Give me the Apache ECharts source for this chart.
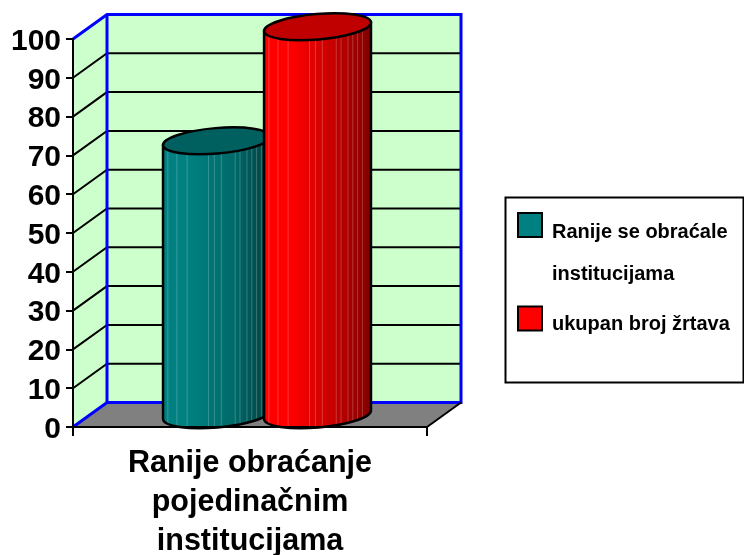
<!DOCTYPE html>
<html>
<head>
<meta charset="utf-8">
<style>html,body{margin:0;padding:0;background:#fff}#chart{width:744px;height:555px}</style>
<script src="https://cdn.jsdelivr.net/npm/echarts@6/dist/echarts.min.js"></script>
</head>
<body>
<div id="chart"></div>
<script>
const categories = ["Ranije obraćanje\npojedinačnim\ninstitucijama"];
const earlierValues = [70.6];
const totalValues = [100];
const yTicks = [0, 10, 20, 30, 40, 50, 60, 70, 80, 90, 100];
const earlierName = "Ranije se obraćale\ninstitucijama";
const totalName = "ukupan broj žrtava";

const font = "Liberation Sans";
const depthX = 34;
const depthY = -24.5;
const wallBlue = "#0000ff";

// fake 3d box: side wall, back wall, floor and the gridlines running round them
function renderBox(params, api) {
  const cs = params.coordSys;
  const x0 = cs.x, x1 = cs.x + cs.width, yBase = cs.y + cs.height, yTop = cs.y;
  const children = [
    { type: "polygon", shape: { points: [[x0, yBase], [x0 + depthX, yBase + depthY], [x0 + depthX, yTop + depthY], [x0, yTop]] }, style: { fill: "#ccffcc" } },
    { type: "rect", shape: { x: x0 + depthX, y: yTop + depthY, width: cs.width, height: cs.height }, style: { fill: "#ccffcc" } },
    { type: "polygon", shape: { points: [[x0, yBase], [x0 + depthX, yBase + depthY], [x1 + depthX, yBase + depthY], [x1, yBase]] }, style: { fill: "#808080" } },
  ];
  yTicks.slice(1, -1).forEach((v) => {
    const y = api.coord([0, v])[1];
    children.push({
      type: "polyline",
      shape: { points: [[x0, y], [x0 + depthX, y + depthY], [x1 + depthX, y + depthY]] },
      style: { fill: "none", stroke: "#000", lineWidth: 2 },
    });
  });
  children.push({
    type: "polyline",
    shape: { points: [[x0, yTop], [x0 + depthX, yTop + depthY], [x1 + depthX, yTop + depthY], [x1 + depthX, yBase + depthY], [x0 + depthX, yBase + depthY], [x0, yBase]] },
    style: { fill: "none", stroke: wallBlue, lineWidth: 3 },
  });
  children.push({
    type: "line",
    shape: { x1: x0 + depthX, y1: yTop + depthY, x2: x0 + depthX, y2: yBase + depthY },
    style: { stroke: wallBlue, lineWidth: 3 },
  });
  children.push({
    type: "line",
    shape: { x1: x1, y1: yBase, x2: x1 + depthX, y2: yBase + depthY },
    style: { stroke: "#000", lineWidth: 2 },
  });
  return { type: "group", children };
}

const stripes = [0.045, 0.13, 0.225, 0.425, 0.48, 0.545, 0.675, 0.72, 0.785, 0.83, 0.875, 0.92];

function cylinderRenderer(offset, colors) {
  return function (params, api) {
    const band = api.size([1, 0])[0];
    const rx = band * 0.151;
    const ry = 12.7;
    const tilt = 4.5;
    const cx = api.coord([0, 0])[0] + depthX / 2 + band * offset;
    const yTopC = api.coord([0, api.value(1)])[1] + depthY / 2;
    const yBotC = api.coord([0, 0])[1] + depthY / 2;
    const lx = cx - rx, rxx = cx + rx;
    const body = `M${lx} ${yTopC + tilt}L${lx} ${yBotC + tilt}A${rx} ${ry} -4.8 0 0 ${rxx} ${yBotC - tilt}L${rxx} ${yTopC - tilt}Z`;
    const cap = `M${lx} ${yTopC + tilt}A${rx} ${ry} -4.8 0 0 ${rxx} ${yTopC - tilt}A${rx} ${ry} -4.8 0 0 ${lx} ${yTopC + tilt}Z`;
    const children = [{
      type: "path",
      shape: { pathData: body },
      style: {
        fill: new echarts.graphic.LinearGradient(0, 0, 1, 0, [
          { offset: 0, color: colors.left },
          { offset: 0.25, color: colors.left },
          { offset: 0.65, color: colors.mid },
          { offset: 1, color: colors.right },
        ]),
        stroke: "none",
      },
    }];
    stripes.forEach((s) => {
      const x = lx + s * rx * 2;
      const t = (x - cx) / rx;
      const yShift = -t * tilt;
      children.push({
        type: "line",
        shape: { x1: x, y1: yTopC + yShift + ry * Math.sqrt(1 - t * t), x2: x, y2: yBotC + yShift + ry * Math.sqrt(1 - t * t) },
        style: { stroke: "rgba(255,255,255,0.22)", lineWidth: 1 },
      });
    });
    children.push({ type: "path", shape: { pathData: body }, style: { fill: "none", stroke: "#000", lineWidth: 2.5 } });
    children.push({ type: "path", shape: { pathData: cap }, style: { fill: colors.cap, stroke: "#000", lineWidth: 2.5 } });
    return { type: "group", children };
  };
}

const chart = echarts.init(document.getElementById("chart"), null, { renderer: "canvas" });

const legendBase = {
  orient: "vertical",
  selectedMode: false,
  itemWidth: 24,
  itemHeight: 24,
  itemGap: 0,
  padding: 0,
  icon: "rect",
};
const legendRich = (spacer) => ({
  rich: {
    s: { fontSize: 1, lineHeight: spacer },
    t: { fontFamily: font, fontWeight: "bold", fontSize: 20, lineHeight: 42, color: "#000", padding: [0, 0, 0, 5] },
  },
});

chart.setOption({
  animation: false,
  backgroundColor: "#fff",
  textStyle: { fontFamily: font },
  grid: { left: 73, top: 39, width: 354, height: 388, outerBoundsMode: "none" },
  legend: [
    Object.assign({}, legendBase, {
      left: 517,
      top: 182.5,
      data: [earlierName],
      formatter: (name) => "{s| }\n" + name.split("\n").map((l) => `{t|${l}}`).join("\n"),
      textStyle: legendRich(56),
    }),
    Object.assign({}, legendBase, {
      left: 517,
      top: 297,
      data: [totalName],
      formatter: (name) => `{s| }\n{t|${name}}`,
      textStyle: legendRich(11),
    }),
  ],
  graphic: [{
    type: "rect",
    z: 0,
    shape: { x: 505.5, y: 197.5, width: 238, height: 185 },
    style: { fill: "#fff", stroke: "#000", lineWidth: 2 },
  }],
  xAxis: {
    type: "category",
    data: categories,
    z: 5,
    axisLine: { lineStyle: { color: "#000", width: 2 } },
    axisTick: { show: true, alignWithLabel: false, length: 9, lineStyle: { color: "#000", width: 2 } },
    axisLabel: { interval: 0, margin: 17, fontFamily: font, fontWeight: "bold", fontSize: 30.5, lineHeight: 39, color: "#000" },
    splitLine: { show: false },
  },
  yAxis: {
    type: "value",
    min: 0,
    max: 100,
    interval: 10,
    z: 5,
    axisLine: { show: true, lineStyle: { color: "#000", width: 2 } },
    axisTick: { show: true, length: 7, lineStyle: { color: "#000", width: 2 } },
    axisLabel: {
      margin: 12,
      formatter: "{v|{value}}",
      rich: { v: { fontFamily: font, fontWeight: "bold", fontSize: 30, color: "#000", padding: [5, 0, 0, 0] } },
    },
    splitLine: { show: false },
  },
  series: [
    {
      type: "custom",
      name: "box",
      silent: true,
      clip: false,
      z: 1,
      data: [[0, 0]],
      renderItem: renderBox,
    },
    {
      type: "custom",
      name: earlierName,
      clip: false,
      z: 2,
      itemStyle: { color: "#008080", borderColor: "#000", borderWidth: 2 },
      data: earlierValues.map((v, i) => [i, v]),
      renderItem: cylinderRenderer(-0.1427, { left: "#008080", mid: "#006a6a", right: "#004040", cap: "#006060" }),
    },
    {
      type: "custom",
      name: totalName,
      clip: false,
      z: 3,
      itemStyle: { color: "#ff0000", borderColor: "#000", borderWidth: 2 },
      data: totalValues.map((v, i) => [i, v]),
      renderItem: cylinderRenderer(0.1427, { left: "#ff0000", mid: "#c40000", right: "#800000", cap: "#c00000" }),
    },
  ],
});
</script>
</body>
</html>
